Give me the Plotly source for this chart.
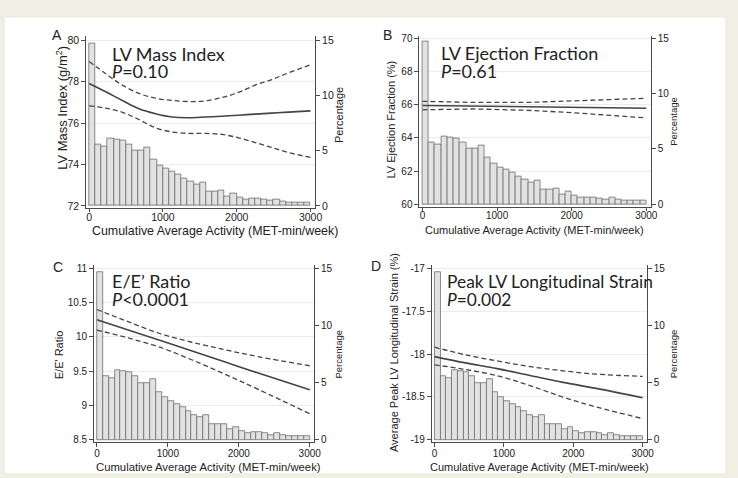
import plotly.graph_objects as go

W, H = 738, 478

# ---------------- data ----------------
x_ticks = [0, 1000, 2000, 3000]
x_tick_labels = ["0", "1000", "2000", "3000"]
pct_ticks = [0, 5, 10, 15]
pct_tick_labels = ["0", "5", "10", "15"]

n_bins = 36
bin_width = 3000 / n_bins
hist_pct = [14.7, 5.6, 5.4, 6.1, 6.0, 5.9, 5.6, 5.0, 5.0, 5.3, 4.2, 3.7,
            3.35, 3.1, 2.85, 2.5, 2.2, 1.95, 2.15, 1.35, 1.35, 1.4, 0.9, 1.15,
            0.8, 0.6, 0.65, 0.65, 0.55, 0.45, 0.6, 0.4, 0.3, 0.3, 0.3, 0.35]
bin_centers = [(i + 0.5) * bin_width for i in range(n_bins)]

# Panel A: LV Mass Index
a_x = [0, 225, 450, 675, 900, 1125, 1350, 1575, 1800, 2025, 2250, 2475, 2700, 3000]
a_fit = [77.91, 77.51, 77.09, 76.69, 76.45, 76.29, 76.26, 76.29, 76.33, 76.38, 76.43, 76.48, 76.53, 76.59]
a_hi = [78.97, 78.38, 77.83, 77.43, 77.20, 77.09, 77.04, 77.07, 77.23, 77.48, 77.83, 78.10, 78.42, 78.81]
a_lo = [76.83, 76.72, 76.52, 76.17, 75.77, 75.57, 75.50, 75.50, 75.45, 75.29, 75.06, 74.82, 74.58, 74.34]
a_ticks = [72, 74, 76, 78, 80]
a_tick_labels = ["72", "74", "76", "78", "80"]

# Panel B: LV Ejection Fraction
b_x = [0, 700, 1400, 2000, 3000]
b_fit = [65.95, 65.91, 65.87, 65.83, 65.78]
b_hi = [66.20, 66.13, 66.13, 66.23, 66.38]
b_lo = [65.69, 65.74, 65.66, 65.52, 65.20]
b_ticks = [60, 62, 64, 66, 68, 70]
b_tick_labels = ["60", "62", "64", "66", "68", "70"]

# Panel C: E/E' Ratio
c_x = [0, 420, 886, 1352, 1819, 2285, 3000]
c_fit = [10.25, 10.11, 9.95, 9.79, 9.63, 9.47, 9.23]
c_hi = [10.40, 10.23, 10.05, 9.92, 9.81, 9.71, 9.58]
c_lo = [10.10, 9.99, 9.85, 9.66, 9.45, 9.23, 8.88]
c_ticks = [8.5, 9, 9.5, 10, 10.5, 11]
c_tick_labels = ["8.5", "9", "9.5", "10", "10.5", "11"]

# Panel D: Peak LV Longitudinal Strain
d_x = [0, 424, 900, 1376, 1852, 2329, 3000]
d_fit = [-18.03, -18.10, -18.17, -18.25, -18.33, -18.40, -18.51]
d_hi = [-17.92, -18.005, -18.08, -18.146, -18.195, -18.234, -18.26]
d_lo = [-18.126, -18.177, -18.253, -18.368, -18.502, -18.617, -18.752]
d_ticks = [-19, -18.5, -18, -17.5, -17]
d_tick_labels = ["-19", "-18.5", "-18", "-17.5", "-17"]

panels = [
    dict(letter="A", title="LV Mass Index", pval="<i>P</i>=0.10",
         ytitle="LV Mass Index (g/m<sup>2</sup>)", x=a_x, fit=a_fit, hi=a_hi, lo=a_lo,
         ticks=a_ticks, labels=a_tick_labels, shape="spline"),
    dict(letter="B", title="LV Ejection Fraction", pval="<i>P</i>=0.61",
         ytitle="LV Ejection Fraction (%)", x=b_x, fit=b_fit, hi=b_hi, lo=b_lo,
         ticks=b_ticks, labels=b_tick_labels, shape="linear"),
    dict(letter="C", title="E/E\u2019 Ratio", pval="<i>P</i><0.0001",
         ytitle="E/E' Ratio", x=c_x, fit=c_fit, hi=c_hi, lo=c_lo,
         ticks=c_ticks, labels=c_tick_labels, shape="spline"),
    dict(letter="D", title="Peak LV Longitudinal Strain", pval="<i>P</i>=0.002",
         ytitle="Average Peak LV Longitudinal Strain (%)", x=d_x, fit=d_fit, hi=d_hi, lo=d_lo,
         ticks=d_ticks, labels=d_tick_labels, shape="spline"),
]
x_title = "Cumulative Average Activity (MET-min/week)"
pct_title = "Percentage"

# ---------------- layout geometry (pixels) ----------------
geom = [
    dict(xdom=(87, 318), ydom=(33, 208), hi_px=37.7, lo_px=206.0,
         letter=(58, 32), title=(111, 52), pline=(111, 69), ytitle=(63, 106),
         ptitle=(343, 114), xtitle=(217, 231), tick=10.5, yts=13, pts=11, xts=12.4,
         xstand=-4, xticklen=3, tsize=18),
    dict(xdom=(423.5, 657), ydom=(33, 207), hi_px=35.7, lo_px=204.3,
         letter=(391, 32), title=(443, 51), pline=(443, 69), ytitle=(395, 118),
         ptitle=(680, 120), xtitle=(540, 230), tick=10, yts=11, pts=9.5, xts=11,
         xstand=-4, xticklen=3, tsize=18),
    dict(xdom=(95, 317), ydom=(266, 446), hi_px=269.3, lo_px=443.3,
         letter=(59, 268), title=(111, 282), pline=(111, 300), ytitle=(59, 357),
         ptitle=(342, 356), xtitle=(210, 471), tick=10, yts=11, pts=9.5, xts=11.3,
         xstand=-2, xticklen=4, tsize=18),
    dict(xdom=(436, 653), ydom=(266, 446), hi_px=269.3, lo_px=443.3,
         letter=(380, 267), title=(449, 283), pline=(449, 301), ytitle=(398, 355),
         ptitle=(680, 356), xtitle=(545, 471), tick=10, yts=11, pts=9.5, xts=11,
         xstand=-2, xticklen=4, tsize=17.4),
]

def fx(p):
    return p / W

def fy(p):
    return 1 - p / H

AX = "#4a4a4a"
LINE = "#454545"
TICKFONT = "Liberation Sans, Arial, sans-serif"
TITLEFONT = "Lato, Open Sans, sans-serif"

fig = go.Figure()
layout = {}
annotations = []

for i, (p, g) in enumerate(zip(panels, geom)):
    xa = "x" if i == 0 else f"x{i+1}"
    ya_pct = "y" if i == 0 else f"y{2*i+1}"
    ya_val = f"y{2*i+2}"
    xkey = "xaxis" if i == 0 else f"xaxis{i+1}"
    ypk = "yaxis" if i == 0 else f"yaxis{2*i+1}"
    yvk = f"yaxis{2*i+2}"

    lo_v, hi_v = p["ticks"][0], p["ticks"][-1]
    s = (g["lo_px"] - g["hi_px"]) / (hi_v - lo_v)
    top_v = hi_v + (g["hi_px"] - g["ydom"][0]) / s
    bot_v = lo_v - (g["ydom"][1] - g["lo_px"]) / s
    f_bot = (bot_v - lo_v) / (hi_v - lo_v)
    f_top = (top_v - lo_v) / (hi_v - lo_v)
    pct_range = [15 * f_bot, 15 * f_top]

    ydomain = [fy(g["ydom"][1]), fy(g["ydom"][0])]

    layout[xkey] = dict(domain=[fx(g["xdom"][0]), fx(g["xdom"][1])], anchor=ya_pct,
                        range=[-40, 3060], tickvals=x_ticks, ticktext=x_tick_labels,
                        showline=True, linecolor=AX, linewidth=1, ticks="outside",
                        ticklen=g["xticklen"], tickcolor=AX, showgrid=False, zeroline=False,
                        ticklabelstandoff=g["xstand"],
                        tickfont=dict(family=TICKFONT, size=g["tick"], color="#222"))
    layout[ypk] = dict(domain=ydomain, anchor=xa, side="right", range=pct_range,
                       tickvals=pct_ticks, ticktext=pct_tick_labels,
                       showline=True, linecolor=AX, linewidth=1, ticks="outside",
                       ticklen=4, tickcolor=AX, showgrid=False, zeroline=False,
                       tickfont=dict(family=TICKFONT, size=g["tick"], color="#222"))
    layout[yvk] = dict(overlaying=ya_pct, anchor=xa, side="left", range=[bot_v, top_v],
                       tickvals=p["ticks"], ticktext=p["labels"],
                       showline=True, linecolor=AX, linewidth=1, ticks="outside",
                       ticklen=4, tickcolor=AX, showgrid=True, gridcolor="#ececec",
                       gridwidth=1, zeroline=False,
                       tickfont=dict(family=TICKFONT, size=g["tick"], color="#222"))

    fig.add_trace(go.Bar(x=bin_centers, y=hist_pct, width=bin_width, xaxis=xa, yaxis=ya_pct,
                         marker=dict(color="#e2e2e2", line=dict(color="#6f6f6f", width=0.8)),
                         showlegend=False, hoverinfo="skip"))
    fig.add_trace(go.Scatter(x=p["x"], y=p["hi"], mode="lines", xaxis=xa, yaxis=ya_val,
                             line=dict(color=LINE, width=1.3, dash="5px,3px", shape=p["shape"]),
                             showlegend=False))
    fig.add_trace(go.Scatter(x=p["x"], y=p["lo"], mode="lines", xaxis=xa, yaxis=ya_val,
                             line=dict(color=LINE, width=1.3, dash="5px,3px", shape=p["shape"]),
                             showlegend=False))
    fig.add_trace(go.Scatter(x=p["x"], y=p["fit"], mode="lines", xaxis=xa, yaxis=ya_val,
                             line=dict(color=LINE, width=1.6, shape=p["shape"]),
                             showlegend=False))

    annotations += [
        dict(text=p["letter"], x=fx(g["letter"][0]), y=fy(g["letter"][1]), xref="paper", yref="paper",
             showarrow=False, xanchor="center", yanchor="middle",
             font=dict(family=TICKFONT, size=14, color="#222")),
        dict(text=p["title"], x=fx(g["title"][0]), y=fy(g["title"][1]), xref="paper", yref="paper",
             showarrow=False, xanchor="left", yanchor="middle",
             font=dict(family=TITLEFONT, size=g["tsize"], color="#222")),
        dict(text=p["pval"], x=fx(g["pline"][0]), y=fy(g["pline"][1]), xref="paper", yref="paper",
             showarrow=False, xanchor="left", yanchor="middle",
             font=dict(family=TITLEFONT, size=g["tsize"], color="#222")),
        dict(text=p["ytitle"], x=fx(g["ytitle"][0]), y=fy(g["ytitle"][1]), xref="paper", yref="paper",
             showarrow=False, xanchor="center", yanchor="middle", textangle=-90,
             font=dict(family=TICKFONT, size=g["yts"], color="#222")),
        dict(text=pct_title, x=fx(g["ptitle"][0]), y=fy(g["ptitle"][1]), xref="paper", yref="paper",
             showarrow=False, xanchor="center", yanchor="middle", textangle=-90,
             font=dict(family=TICKFONT, size=g["pts"], color="#222")),
        dict(text=x_title, x=fx(g["xtitle"][0]), y=fy(g["xtitle"][1]), xref="paper", yref="paper",
             showarrow=False, xanchor="center", yanchor="middle",
             font=dict(family=TICKFONT, size=g["xts"], color="#222")),
    ]

layout.update(
    width=W, height=H, margin=dict(l=0, r=0, t=0, b=0),
    paper_bgcolor="#efefe4", plot_bgcolor="rgba(0,0,0,0)",
    bargap=0, barmode="overlay", annotations=annotations,
    shapes=[dict(type="rect", xref="paper", yref="paper", x0=fx(5), x1=fx(732), y0=fy(477), y1=fy(15),
                 fillcolor="white", line=dict(width=0), layer="below")],
)
fig.update_layout(**layout)
fig.write_html("out.html")
